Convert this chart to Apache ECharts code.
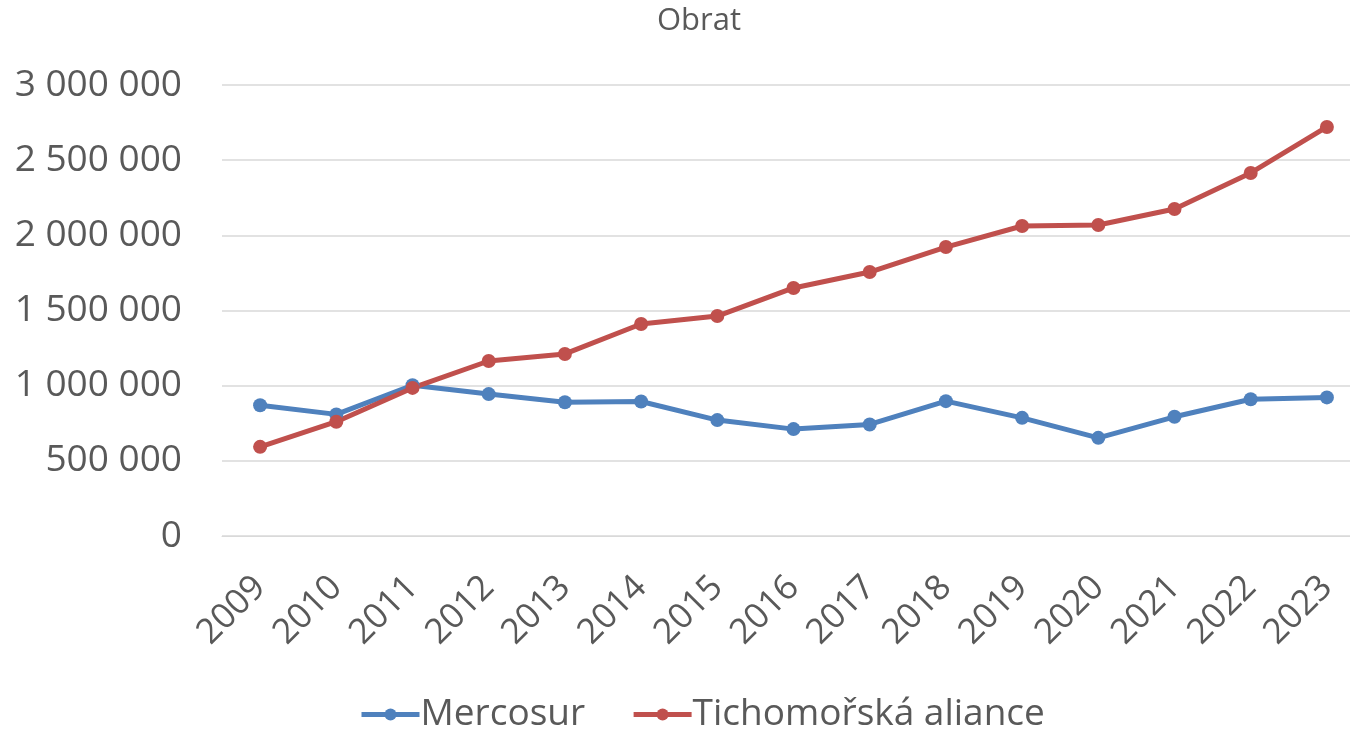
<!DOCTYPE html>
<html><head><meta charset="utf-8">
<script src="https://cdn.jsdelivr.net/npm/echarts@6/dist/echarts.min.js"></script>
<style>html,body{margin:0;padding:0;background:#fff}#c{width:1350px;height:729px}</style>
</head><body><div id="c"></div>
<script>
const years = ['2009','2010','2011','2012','2013','2014','2015','2016','2017','2018','2019','2020','2021','2022','2023'];
const mercosur = [870000, 809000, 1003000, 944000, 890000, 895000, 771000, 711000, 742000, 897000, 786000, 653000, 793000, 910000, 922000];
const tichomorska = [593000, 760000, 985000, 1164000, 1211000, 1410000, 1463000, 1650000, 1756000, 1922000, 2062000, 2069000, 2175000, 2415000, 2721000];
const seriesNames = ['Mercosur', 'Tichomořská aliance'];
const chartTitle = 'Obrat';

const font = '"Open Sans", sans-serif';
const chart = echarts.init(document.getElementById('c'));
function fmt(v){ return String(v).replace(/\B(?=(\d{3})+(?!\d))/g, ' '); }
chart.setOption({
  animation: false,
  title: { text: chartTitle, left: 652, top: 1, textStyle: { fontFamily: font, fontSize: 31, fontWeight: 'normal', color: '#595959' } },
  legend: { top: 691, left: 354, itemWidth: 58, itemHeight: 15, itemGap: 46,
    lineStyle: { width: 5 },
    textStyle: { fontFamily: font, fontSize: 37, color: '#595959', padding: [0, 0, 0, -4] },
    data: seriesNames },
  grid: { left: 222, width: 1143, top: 85, height: 451, containLabel: false, outerBoundsMode: 'none' },
  xAxis: { type: 'category', data: years, boundaryGap: true,
    axisLine: { lineStyle: { color: '#d9d9d9', width: 1 } }, axisTick: { show: false },
    axisLabel: { rotate: 45, fontFamily: font, fontSize: 35, color: '#595959', margin: 46, interval: 0 } },
  yAxis: { type: 'value', min: 0, max: 3000000, interval: 500000,
    axisLine: { show: false }, axisTick: { show: false },
    splitLine: { lineStyle: { color: '#d9d9d9', width: 1.5 } },
    axisLabel: { fontFamily: font, fontSize: 37, color: '#595959', margin: 40, formatter: fmt } },
  series: [
    { name: seriesNames[0], type: 'line', data: mercosur, symbol: 'circle', symbolSize: 14,
      lineStyle: { width: 5, color: '#4F81BD' }, itemStyle: { color: '#4F81BD' } },
    { name: seriesNames[1], type: 'line', data: tichomorska, symbol: 'circle', symbolSize: 14,
      lineStyle: { width: 5, color: '#C0504D' }, itemStyle: { color: '#C0504D' } }
  ]
});
</script></body></html>
